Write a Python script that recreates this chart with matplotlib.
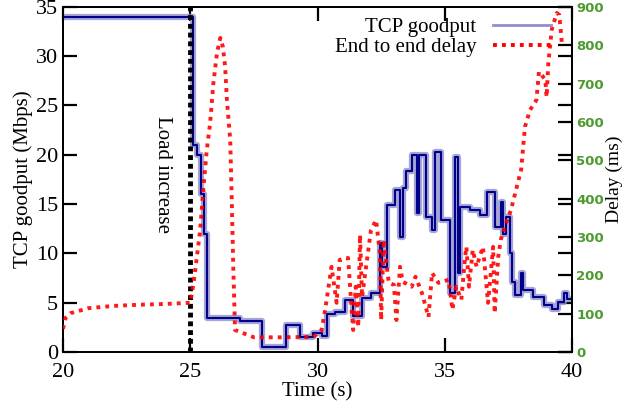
import matplotlib
matplotlib.use("Agg")
import matplotlib.pyplot as plt
from matplotlib.lines import Line2D

# TCP goodput (Mbps), step series (post)
gp_time = [20.0, 25.1, 25.27, 25.43, 25.55, 25.67, 26.96, 27.8, 28.75, 29.3,
           29.84, 30.16, 30.38, 30.69, 31.08, 31.4, 31.73, 32.12, 32.45, 32.55,
           32.74, 33.04, 33.24, 33.35, 33.47, 33.73, 33.91, 34.0, 34.28, 34.48,
           34.6, 34.87, 35.2, 35.4, 35.5, 35.6, 36.0, 36.37, 36.66, 36.96,
           37.2, 37.3, 37.4, 37.55, 37.65, 37.75, 38.0, 38.06, 38.45, 38.9,
           39.2, 39.45, 39.67, 39.8, 40.0]
gp_mbps = [34.0, 21.0, 20.0, 16.0, 12.0, 3.4, 3.1, 0.5, 2.7, 1.5,
           1.9, 1.6, 3.8, 4.0, 5.3, 3.6, 5.5, 6.0, 11.0, 8.6,
           14.9, 16.4, 11.7, 16.6, 18.3, 20.0, 14.1, 20.0, 13.7, 12.4,
           20.3, 13.4, 6.0, 19.8, 8.0, 14.7, 14.4, 13.9, 16.2, 12.7,
           15.2, 12.0, 13.7, 10.0, 7.1, 5.8, 8.0, 6.3, 5.6, 4.8,
           4.4, 5.1, 6.0, 5.4, 5.4]

# end to end delay (ms)
dl_time = [20.0, 20.1, 20.3, 21.0, 22.0, 23.0, 24.0, 25.0, 25.13, 25.26,
           25.39, 25.52, 25.65, 25.78, 25.91, 26.05, 26.18, 26.28, 26.37, 26.44,
           26.57, 26.63, 26.69, 26.76, 27.5, 28.5, 29.84, 30.16, 30.3, 30.55,
           30.75, 30.87, 31.2, 31.4, 31.5, 31.6, 31.67, 31.75, 32.1, 32.3,
           32.45, 32.5, 32.6, 32.8, 33.0, 33.1, 33.24, 33.35, 33.7, 33.85,
           34.1, 34.36, 34.5, 34.75, 35.15, 35.3, 35.45, 35.65, 35.8, 35.85,
           35.95, 36.1, 36.25, 36.37, 36.5, 36.7, 36.9, 36.96, 37.1, 37.2,
           37.35, 37.6, 37.8, 38.0, 38.15, 38.35, 38.6, 38.7, 38.95, 39.0,
           39.07, 39.2, 39.4, 39.5, 39.6]
dl_ms = [60, 89, 101, 114, 120, 123, 125, 128, 180, 248,
         318, 431, 527, 597, 702, 780, 819, 796, 744, 657,
         553, 397, 222, 57, 38, 38, 39, 57, 110, 222,
         128, 240, 245, 57, 170, 65, 305, 143, 318, 344,
         258, 83, 292, 180, 175, 83, 222, 183, 170, 196,
         154, 91, 206, 180, 188, 110, 170, 136, 248, 274,
         170, 266, 222, 248, 274, 128, 274, 101, 248, 292,
         326, 370, 423, 475, 587, 631, 657, 731, 710, 665,
         754, 840, 884, 879, 806]

load_time = 25.0

plt.rcParams["font.family"] = ["Liberation Serif", "DejaVu Serif"]

fig = plt.figure(figsize=(6.3, 4.04), dpi=100)
ax = fig.add_axes([0.1, 0.129, 0.808, 0.854])
ax2 = ax.twinx()

# goodput: light thick band + dark thin line on top
ax.step(gp_time, gp_mbps, where="post", color="#8f8fcc", lw=4.5, alpha=0.8,
        zorder=3)
ax.step(gp_time, gp_mbps, where="post", color="#00008b", lw=1.5, zorder=4)

ax.plot([load_time, load_time], [0, 35], color="black", lw=3.5,
        linestyle=(0, (1, 0.8)), zorder=5)
ax.text(23.9, 18, "Load increase", rotation=270, ha="center", va="center",
        fontsize=15)

ax2.plot(dl_time, dl_ms, color="red", lw=2.8, linestyle=(0, (1, 1.3)),
         alpha=0.9, zorder=3)

ax.set_xlim(20, 40)
ax.set_ylim(0, 35)
ax2.set_ylim(0, 900)
ax.set_xticks([20, 25, 30, 35, 40])
ax.set_yticks(range(0, 36, 5))
ax2.set_yticks(range(0, 901, 100))

ax.tick_params(axis="both", direction="in", length=10, width=1.6,
               labelsize=16, top=True, right=True)
ax.tick_params(axis="x", pad=8)
ax2.tick_params(axis="y", direction="in", length=10, width=1.6, pad=3,
                labelsize=9.5, labelcolor="#4d9a2e")
for lab in ax2.get_yticklabels():
    lab.set_family("DejaVu Sans")
    lab.set_fontweight("bold")

for a in (ax, ax2):
    for s in a.spines.values():
        s.set_linewidth(1.4)

ax.set_xlabel("Time (s)", fontsize=15, labelpad=0)
ax.set_ylabel("TCP goodput (Mbps)", fontsize=15, labelpad=2)
ax2.set_ylabel("Delay (ms)", fontsize=14, labelpad=1)

handles = [Line2D([], [], color="#8f8fcc", lw=2),
           Line2D([], [], color="red", lw=2.8, linestyle=(0, (1, 1.3)))]
ax2.legend(handles, ["TCP goodput", "End to end delay"], loc="upper right",
           bbox_to_anchor=(0.98, 1.0), frameon=False, markerfirst=False,
           fontsize=15, handlelength=2.8, labelspacing=0.05, borderaxespad=0.1)

fig.savefig("out.png", dpi=100)
